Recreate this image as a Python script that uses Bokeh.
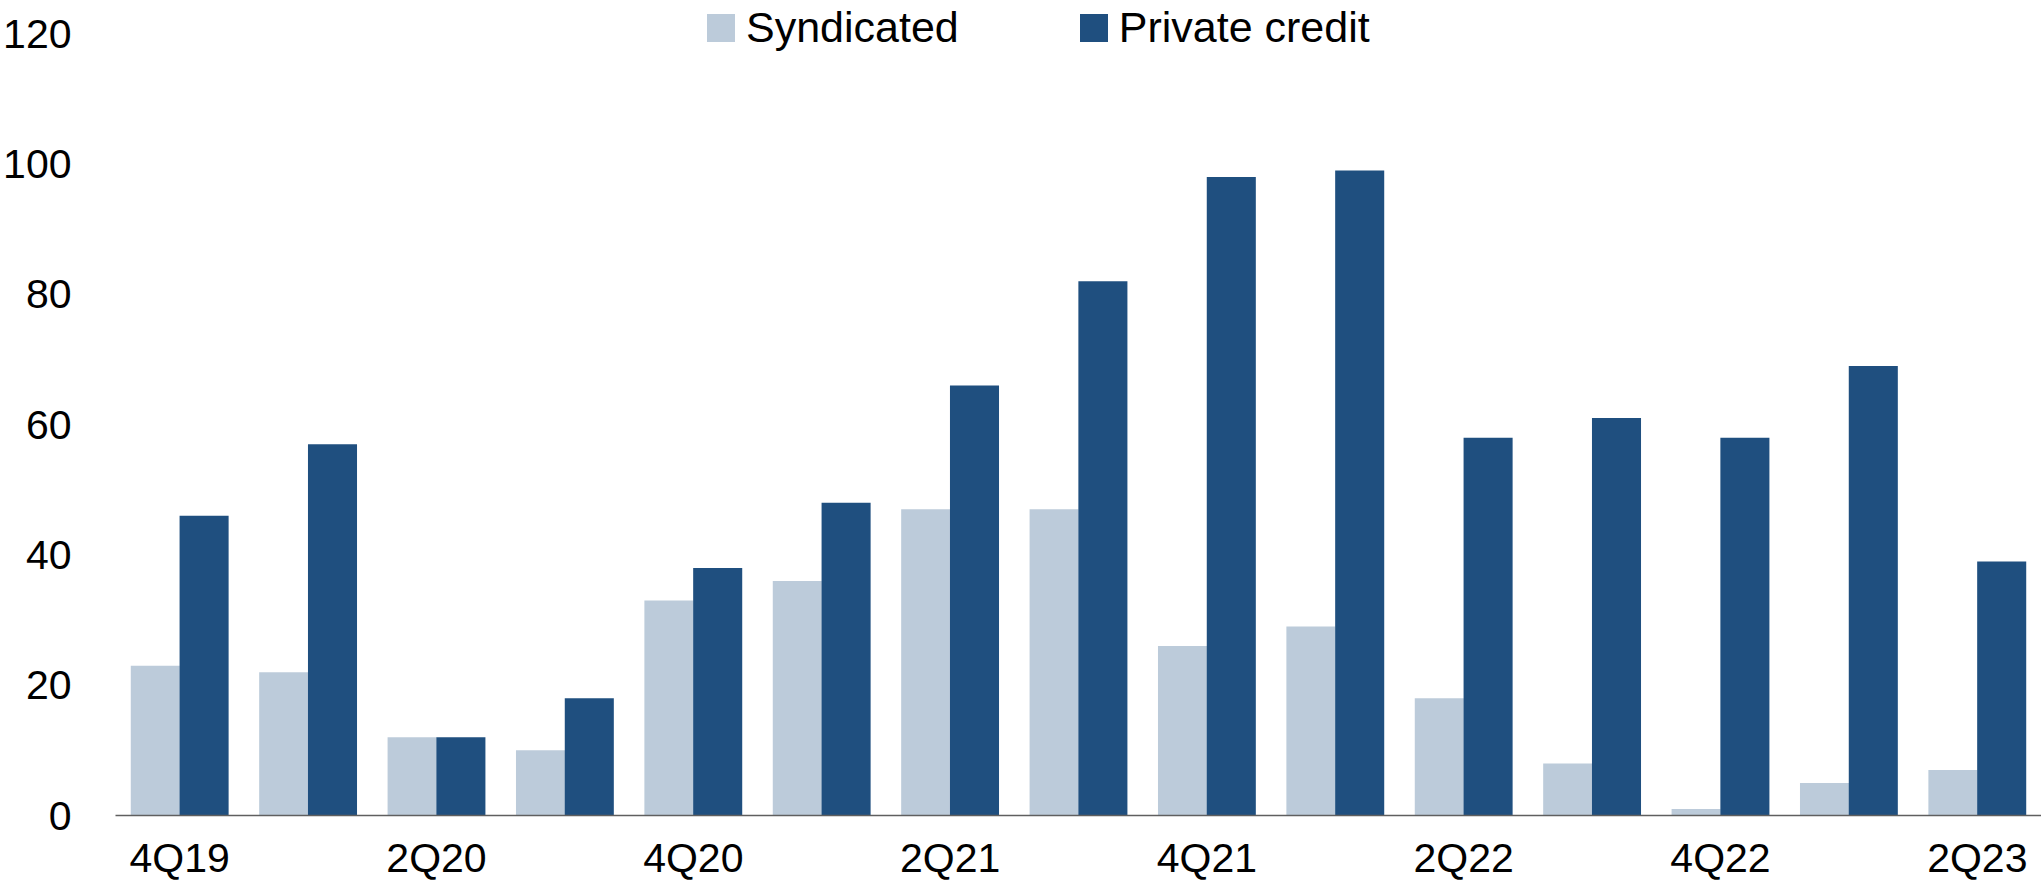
from bokeh.plotting import figure
from bokeh.models import ColumnDataSource, Range1d, FixedTicker, Legend, LegendItem
from bokeh.transform import dodge
from bokeh.embed import file_html
from bokeh.resources import INLINE

quarters = ["4Q19", "1Q20", "2Q20", "3Q20", "4Q20", "1Q21", "2Q21", "3Q21",
            "4Q21", "1Q22", "2Q22", "3Q22", "4Q22", "1Q23", "2Q23"]
syndicated = [23, 22, 12, 10, 33, 36, 47, 47, 26, 29, 18, 8, 1, 5, 7]
private_credit = [46, 57, 12, 18, 38, 48, 66, 82, 98, 99, 58, 61, 58, 69, 39]
y_ticks = [0, 20, 40, 60, 80, 100, 120]
# every other quarter carries a label on the x axis
labelled_quarters = quarters[::2]

FONT = "Liberation Sans, Arial, sans-serif"
LIGHT = "#bccbda"
DARK = "#1f4f7f"

idx = list(range(len(quarters)))
source = ColumnDataSource(dict(pos=idx, quarter=quarters, syn=syndicated, pc=private_credit))

p = figure(
    width=2041, height=883,
    x_range=Range1d(-0.5, len(quarters) - 0.5),
    y_range=Range1d(0, 125.1),
    output_backend="svg", toolbar_location=None,
    min_border_left=114, min_border_right=0, min_border_top=0, min_border_bottom=68,
)
p.outline_line_color = None
p.background_fill_color = "white"
p.border_fill_color = "white"
p.xgrid.grid_line_color = None
p.ygrid.grid_line_color = None

r_syn = p.vbar(x=dodge("pos", -0.19), top="syn", width=0.382,
               source=source, fill_color=LIGHT, line_color=None)
r_pc = p.vbar(x=dodge("pos", 0.19), top="pc", width=0.382,
              source=source, fill_color=DARK, line_color=None)

# y axis: plain labels, no line or ticks
p.yaxis.ticker = FixedTicker(ticks=y_ticks)
p.yaxis.axis_line_color = None
p.yaxis.major_tick_line_color = None
p.yaxis.minor_tick_line_color = None
p.yaxis.major_tick_out = 0
p.yaxis.major_tick_in = 0
p.yaxis.major_label_standoff = 44
p.yaxis.major_label_text_font = FONT
p.yaxis.major_label_text_font_size = "41px"
p.yaxis.major_label_text_color = "black"

# x axis: baseline, with a quarter name under every other pair of bars
label_pos = [quarters.index(q) for q in labelled_quarters]
p.xaxis.ticker = FixedTicker(ticks=label_pos)
p.xaxis.major_label_overrides = {i: q for i, q in zip(label_pos, labelled_quarters)}
p.xaxis.axis_line_color = "#5f5f5f"
p.xaxis.axis_line_width = 1.5
p.xaxis.major_tick_line_color = None
p.xaxis.minor_tick_line_color = None
p.xaxis.major_tick_out = 0
p.xaxis.major_tick_in = 0
p.xaxis.major_label_standoff = 19
p.xaxis.major_label_text_font = FONT
p.xaxis.major_label_text_font_size = "41px"
p.xaxis.major_label_text_color = "black"

legend = Legend(
    items=[LegendItem(label="Syndicated", renderers=[r_syn]),
           LegendItem(label="Private credit", renderers=[r_pc])],
    orientation="horizontal",
    location=(588, 763),
    glyph_width=35, glyph_height=35,
    label_standoff=8, spacing=117,
    padding=0, margin=0,
    border_line_color=None, background_fill_alpha=0,
    label_text_font=FONT, label_text_font_size="43px", label_text_color="black",
)
p.add_layout(legend, "center")

open("out.html", "w").write(file_html(p, INLINE))
